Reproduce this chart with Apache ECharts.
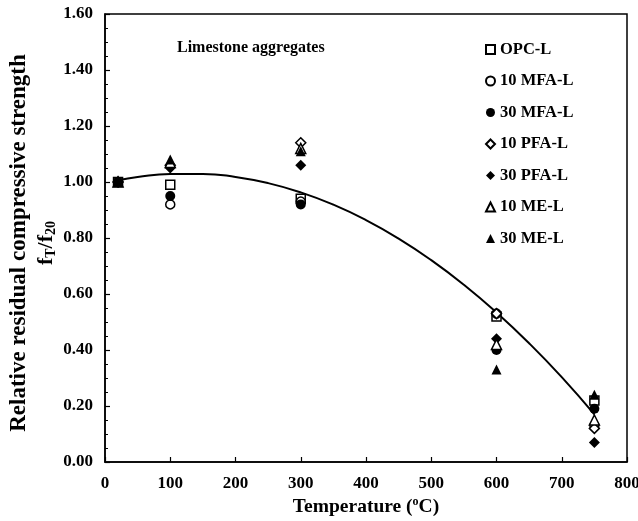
<!DOCTYPE html>
<html><head><meta charset="utf-8">
<script src="https://cdn.jsdelivr.net/npm/echarts@6/dist/echarts.min.js"></script>
<style>html,body{margin:0;padding:0;background:#fff}#c{width:638px;height:521px}</style>
</head><body><div id="c"></div>
<script>
const temps = [20, 100, 300, 600, 750];
const seriesNames = ['OPC-L','10 MFA-L','30 MFA-L','10 PFA-L','30 PFA-L','10 ME-L','30 ME-L'];
const opcL   = [1.00, 0.99, 0.94, 0.52, 0.22];
const mfa10L = [1.00, 0.92, 0.93, 0.53, 0.13];
const mfa30L = [1.00, 0.95, 0.92, 0.40, 0.19];
const pfa10L = [1.00, 1.06, 1.14, 0.53, 0.12];
const pfa30L = [1.00, 1.05, 1.06, 0.44, 0.07];
const me10L  = [1.00, 1.07, 1.12, 0.42, 0.15];
const me30L  = [1.00, 1.08, 1.11, 0.33, 0.24];
const trendX = [20, 50, 100, 150, 200, 250, 300, 350, 400, 450, 500, 550, 600, 650, 700, 750];
const trendY = [1.006, 1.018, 1.029, 1.029, 1.018, 0.996, 0.963, 0.919, 0.864, 0.798, 0.721, 0.633, 0.534, 0.424, 0.303, 0.170];
const xTicks = [0, 100, 200, 300, 400, 500, 600, 700, 800];
const yTicks = [0.00, 0.20, 0.40, 0.60, 0.80, 1.00, 1.20, 1.40, 1.60];

const FONT = '"Liberation Serif", "DejaVu Serif", serif';
const values = [opcL, mfa10L, mfa30L, pfa10L, pfa30L, me10L, me30L];
const symbols = ['rect','circle','circle','diamond','diamond','triangle','triangle'];
const open = [true, true, false, true, false, true, false];
const sizes = [9, 9, 10, 10, 11, 10, 10];

const scatter = seriesNames.map((n, i) => ({
  name: n, type: 'scatter', symbol: symbols[i], symbolSize: sizes[i], z: 3,
  itemStyle: { color: open[i] ? '#fff' : '#000', borderColor: '#000', borderWidth: open[i] ? 1.5 : 0, opacity: 1 },
  data: temps.map((t, k) => [t, values[i][k]])
}));

const chart = echarts.init(document.getElementById('c'), null, { renderer: 'canvas' });
chart.setOption({
  animation: false,
  backgroundColor: '#fff',
  textStyle: { fontFamily: FONT },
  title: { text: 'Limestone aggregates', left: 172, top: 35,
    textStyle: { fontFamily: FONT, fontSize: 16, fontWeight: 'bold', color: '#000' } },
  legend: {
    orient: 'vertical', left: 480, top: 36, itemWidth: 9, itemHeight: 9, itemGap: 14.5,
    textStyle: { fontFamily: FONT, fontSize: 16.5, fontWeight: 'bold', color: '#000' },
    data: seriesNames
  },
  grid: { left: 105, right: 11, top: 14, bottom: 59, show: true, borderColor: '#000', borderWidth: 1.5,
    containLabel: false, outerBoundsMode: 'none' },
  xAxis: {
    type: 'value', min: xTicks[0], max: xTicks[xTicks.length-1], interval: 100,
    name: '{a|Temperature (}{s|o}{a|C)}', nameLocation: 'middle', nameGap: 34, nameMoveOverlap: false,
    nameTextStyle: { rich: {
      a: { fontFamily: FONT, fontSize: 19.5, fontWeight: 'bold', color: '#000' },
      s: { fontFamily: FONT, fontSize: 12, fontWeight: 'bold', color: '#000', verticalAlign: 'top', padding: [0,0,9,0] } } },
    axisLine: { lineStyle: { color: '#000', width: 1.5 } },
    axisTick: { inside: true, length: 5, lineStyle: { color: '#000', width: 1.2 } },
    axisLabel: { fontFamily: FONT, fontSize: 17, fontWeight: 'bold', color: '#000', margin: 13 },
    splitLine: { show: false }
  },
  yAxis: {
    type: 'value', min: yTicks[0], max: yTicks[yTicks.length-1], interval: 0.2,
    name: '{a|Relative residual compressive strength}\n{b|f}{s|T}{b|/f}{s|20}',
    nameLocation: 'middle', nameGap: 45, nameRotate: 90, nameMoveOverlap: false,
    nameTextStyle: { lineHeight: 27, padding: [0, 10, 0, 0], rich: {
      a: { fontFamily: FONT, fontSize: 23, fontWeight: 'bold', color: '#000', lineHeight: 27 },
      b: { fontFamily: FONT, fontSize: 22, fontWeight: 'bold', color: '#000', lineHeight: 27 },
      s: { fontFamily: FONT, fontSize: 14, fontWeight: 'bold', color: '#000', lineHeight: 27, padding: [9,0,0,0] } } },
    axisLine: { lineStyle: { color: '#000', width: 1.5 } },
    axisTick: { inside: true, length: 5, lineStyle: { color: '#000', width: 1.2 } },
    minorTick: { show: true, splitNumber: 4, length: 3, lineStyle: { color: '#000', width: 1 } },
    axisLabel: { fontFamily: FONT, fontSize: 17, fontWeight: 'bold', color: '#000', margin: 12,
      formatter: v => v.toFixed(2) },
    splitLine: { show: false }
  },
  series: [
    { name: 'trend', type: 'line', smooth: true, showSymbol: false, symbol: 'none', z: 2,
      lineStyle: { color: '#000', width: 2 }, data: trendX.map((x, i) => [x, trendY[i]]) },
    ...scatter
  ]
});
</script></body></html>
